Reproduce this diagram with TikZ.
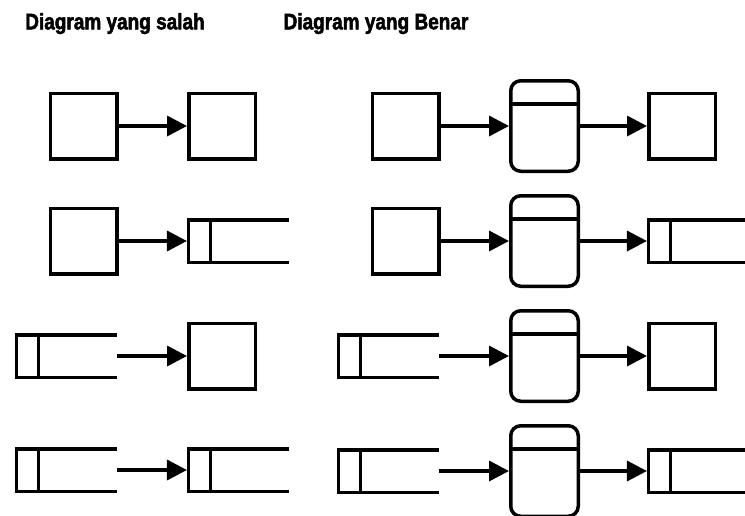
\documentclass[tikz,border=0pt]{standalone}
\usepackage{fontspec}
\setmainfont{Liberation Sans}
\newfontfamily\headfont[FakeBold=2.5]{Liberation Sans Bold}
\usetikzlibrary{arrows.meta}
\tikzset{
  thick line/.style={line width=3.5pt},
  entity/.style={draw, thick line, minimum width=66.5pt, minimum height=65.5pt, inner sep=0pt},
  procbox/.style={draw, thick line, rounded corners=10pt, minimum width=67.5pt, minimum height=90.5pt, inner sep=0pt},
  storebox/.style={minimum width=100pt, minimum height=42.5pt, inner sep=0pt, outer sep=0pt},
  flow/.style={thick line, -{Triangle[length=20pt,width=20pt]}},
  tostore/.style={flow, shorten >=1.75pt},
  title/.style={font=\headfont\fontsize{20}{22}\selectfont, anchor=base, xscale=0.95, yscale=1.12, transform shape}
}
% open-ended data store: left side, top and bottom lines, and the id divider
\newcommand\dstore[2]{%
  \node[storebox] (#1) at (#2) {};
  \draw[thick line] (#1.north east) -- (#1.north west) -- (#1.south west) -- (#1.south east)
    ([xshift=22pt]#1.north west) -- ([xshift=22pt]#1.south west);}
% process: rounded box with a header band
\newcommand\proc[2]{%
  \node[procbox] (#1) at (#2) {};
  \draw[thick line] ([yshift=-25pt]#1.north west) -- ([yshift=-25pt]#1.north east);}
\begin{document}
\begin{tikzpicture}[x=1pt, y=-1pt]
\useasboundingbox (0,0) rectangle (745,515);

\node[title] (t1) at (115,29.3) {Diagram yang salah};
\node[title] (t2) at (376,29.3) {Diagram yang Benar};

% left column
\node[entity] (a1) at (83.5,126) {};
\node[entity] (b1) at (222,126) {};
\draw[flow] (a1.east) -- (b1.west);

\node[entity] (a2) at (83.5,241) {};
\dstore{b2}{238.7,241}
\draw[tostore] (a2.east) -- (b2.west);

\dstore{a3}{66.7,356}
\node[entity] (b3) at (222,356) {};
\draw[flow] (a3.east) -- (b3.west);

\dstore{a4}{66.7,470}
\dstore{b4}{238.7,470}
\draw[tostore] (a4.east) -- (b4.west);

% right column
\node[entity] (c1) at (405.5,126) {};
\proc{p1}{544.5,126}
\node[entity] (d1) at (682,126) {};
\draw[flow] (c1.east) -- (p1.west);
\draw[flow] (p1.east) -- (d1.west);

\node[entity] (c2) at (405.5,241) {};
\proc{p2}{544.5,241}
\dstore{d2}{698.7,241}
\draw[flow] (c2.east) -- (p2.west);
\draw[tostore] (p2.east) -- (d2.west);

\dstore{c3}{388.7,356}
\proc{p3}{544.5,356}
\node[entity] (d3) at (682,356) {};
\draw[flow] (c3.east) -- (p3.west);
\draw[flow] (p3.east) -- (d3.west);

\dstore{c4}{388.7,471}
\proc{p4}{544.5,471}
\dstore{d4}{698.7,471}
\draw[flow] (c4.east) -- (p4.west);
\draw[tostore] (p4.east) -- (d4.west);
\end{tikzpicture}
\end{document}
